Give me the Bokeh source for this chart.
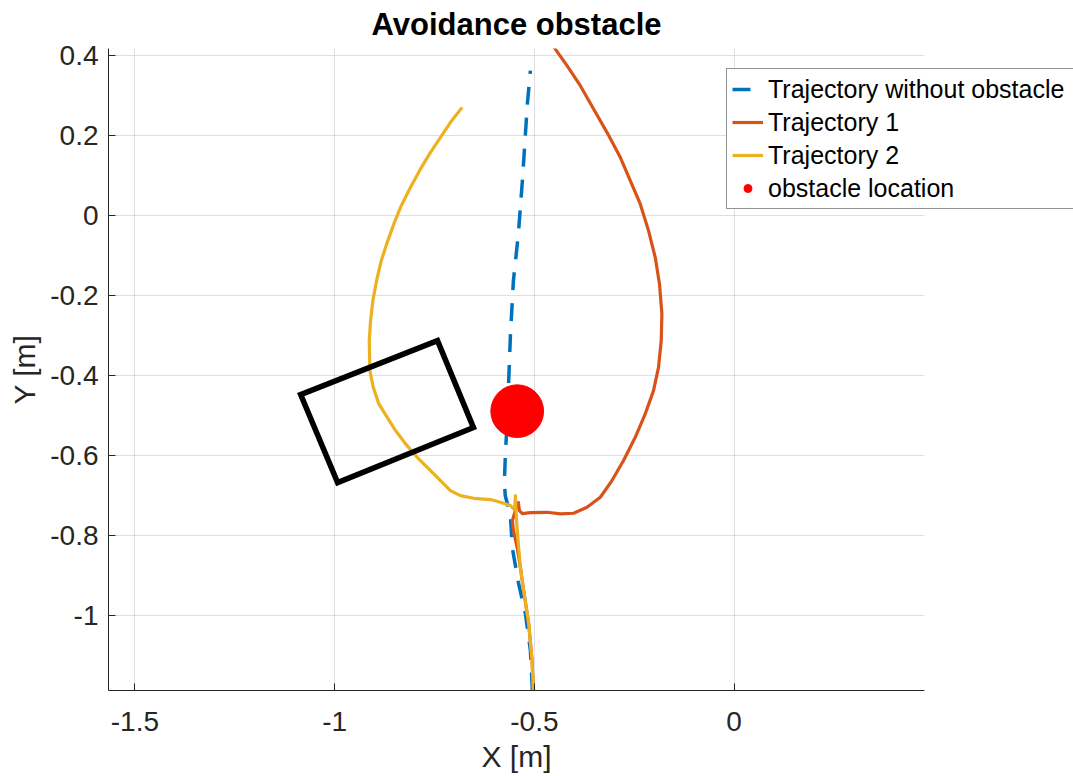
from bokeh.plotting import figure
from bokeh.models import (Range1d, FixedTicker, Legend, LegendItem, CustomJSTickFormatter,
                          Title, BoxAnnotation)
from bokeh.embed import file_html
from bokeh.resources import INLINE

FONT = "Liberation Sans"
TXT = "#262626"

# ---- data (metres) ----
x_ticks = [-1.5, -1.0, -0.5, 0.0]
x_tick_labels = ["-1.5", "-1", "-0.5", "0"]
y_ticks = [0.4, 0.2, 0.0, -0.2, -0.4, -0.6, -0.8, -1.0]
y_tick_labels = ["0.4", "0.2", "0", "-0.2", "-0.4", "-0.6", "-0.8", "-1"]

x_min, x_max = -1.566, 0.4765
y_min, y_max = -1.1875, 0.418

free_x = [-0.505, -0.510, -0.5225, -0.540, -0.555, -0.560, -0.573, -0.575, -0.5725,
          -0.568, -0.560, -0.5525, -0.540, -0.530, -0.5175, -0.510]
free_y = [-1.1875, -1.0875, -0.995, -0.9175, -0.8325, -0.750, -0.700, -0.6625, -0.595,
          -0.5125, -0.300, -0.1625, -0.045, 0.0875, 0.280, 0.3625]

traj1_x = [-0.5025, -0.5058, -0.5143, -0.5268, -0.535, -0.5425, -0.5525, -0.555, -0.5475,
           -0.540, -0.5375, -0.530, -0.510, -0.4683, -0.435, -0.4018, -0.3683, -0.335,
           -0.3058, -0.2768, -0.2475, -0.2225, -0.2018, -0.1893, -0.1825, -0.1808, -0.1868,
           -0.1975, -0.2143, -0.235, -0.260, -0.285, -0.3183, -0.3518, -0.385, -0.4183,
           -0.4518]
traj1_y = [-1.1875, -1.1125, -1.020, -0.9375, -0.880, -0.8325, -0.7875, -0.7625, -0.7375,
           -0.7175, -0.7375, -0.745, -0.7425, -0.7418, -0.7458, -0.7443, -0.7293, -0.7043,
           -0.6625, -0.6125, -0.5543, -0.4958, -0.4375, -0.3793, -0.3125, -0.2458, -0.1708,
           -0.1043, -0.0375, 0.0293, 0.0875, 0.1458, 0.2083, 0.2668, 0.325, 0.375,
           0.4225]

traj2_x = [-0.5025, -0.5058, -0.5143, -0.5268, -0.535, -0.5393, -0.5438, -0.5463, -0.5475,
           -0.5488, -0.5518, -0.560, -0.585, -0.610, -0.6518, -0.685, -0.710, -0.735,
           -0.7643, -0.7933, -0.8225, -0.8475, -0.8683, -0.8893, -0.9033, -0.9118, -0.9133,
           -0.910, -0.9043, -0.895, -0.8833, -0.8683, -0.8518, -0.835, -0.810, -0.785,
           -0.760, -0.735, -0.710, -0.6808]
traj2_y = [-1.1875, -1.1125, -1.020, -0.9375, -0.880, -0.830, -0.775, -0.7325, -0.700,
           -0.725, -0.7333, -0.725, -0.7168, -0.710, -0.7068, -0.700, -0.6875, -0.6625,
           -0.6333, -0.6043, -0.5708, -0.5375, -0.5043, -0.4708, -0.4293, -0.3875, -0.3125,
           -0.2625, -0.2125, -0.1625, -0.1125, -0.0668, -0.0208, 0.0208, 0.0708, 0.1168,
           0.1583, 0.1958, 0.2333, 0.2708]

obstacle_x = [-0.543]
obstacle_y = [-0.489]
obstacle_r = 0.066

box_x = [-1.085, -0.7425, -0.6525, -0.9925, -1.085]
box_y = [-0.4475, -0.3125, -0.530, -0.6675, -0.4475]

# ---- figure ----
FRAME_W_AXES = 816          # visible axes width in px
FRAME_W = 965               # frame reaches the window edge so the legend can overflow the axes
scale = FRAME_W_AXES / (x_max - x_min)
x_end = x_min + FRAME_W / scale

p = figure(frame_width=FRAME_W, frame_height=642,
           x_range=Range1d(x_min, x_end), y_range=Range1d(y_min, y_max),
           min_border_left=108, min_border_right=0, min_border_top=48, min_border_bottom=86,
           output_backend="svg", toolbar_location=None)
p.background_fill_color = "white"
p.border_fill_color = "white"
p.outline_line_color = None

title = Title(text="Avoidance obstacle", align="left", offset=263, vertical_align="top",
              standoff=10, text_font=FONT, text_font_size="31px", text_font_style="bold",
              text_color="black")
p.add_layout(title, "above")

fmt = CustomJSTickFormatter(code="return Number(tick.toFixed(2)).toString();")
p.xaxis.ticker = FixedTicker(ticks=x_ticks)
p.yaxis.ticker = FixedTicker(ticks=y_ticks)
p.xaxis.formatter = fmt
p.yaxis.formatter = fmt
p.xaxis.major_label_overrides = dict(zip(x_ticks, x_tick_labels))
p.yaxis.major_label_overrides = dict(zip(y_ticks, y_tick_labels))
p.xaxis.bounds = (x_min, x_max)
p.yaxis.axis_label = "Y [m]"
for ax in (p.xaxis, p.yaxis):
    ax.axis_line_color = TXT
    ax.axis_line_width = 1
    ax.major_tick_line_color = TXT
    ax.major_tick_in = 7
    ax.major_tick_out = 0
    ax.minor_tick_line_color = None
    ax.major_label_text_font = FONT
    ax.major_label_text_font_size = "28px"
    ax.major_label_text_color = TXT
    ax.axis_label_text_font = FONT
    ax.axis_label_text_font_size = "30px"
    ax.axis_label_text_font_style = "normal"
    ax.axis_label_text_color = TXT
p.xaxis.major_label_standoff = 21
p.yaxis.major_label_standoff = 10
p.yaxis.axis_label_standoff = 6

xlabel = Title(text="X [m]", align="left", offset=516 - 108 - 35, vertical_align="top",
               standoff=12, text_font=FONT, text_font_size="30px", text_font_style="normal",
               text_color=TXT)
p.add_layout(xlabel, "below")

for g in (p.xgrid, p.ygrid):
    g.grid_line_color = TXT
    g.grid_line_alpha = 0.15
    g.grid_line_width = 1

r0 = p.line(free_x, free_y, line_color="#0072BD", line_width=3.5, line_dash="18 13")
r1 = p.line(traj1_x, traj1_y, line_color="#D95319", line_width=3.2, line_join="round")
r2 = p.line(traj2_x, traj2_y, line_color="#EDB120", line_width=3.2, line_join="round")
r3 = p.circle(obstacle_x, obstacle_y, radius=obstacle_r, fill_color="#FF0000", line_color="#FF0000")
p.patch(box_x, box_y, fill_alpha=0, line_color="black", line_width=5.5, line_join="miter")

# blank out the part of the frame that lies right of the axes
p.add_layout(BoxAnnotation(left=x_max, fill_color="white", fill_alpha=1, line_color=None))

legend = Legend(items=[
    LegendItem(label="Trajectory without obstacle", renderers=[r0]),
    LegendItem(label="Trajectory 1", renderers=[r1]),
    LegendItem(label="Trajectory 2", renderers=[r2]),
    LegendItem(label="obstacle location", renderers=[r3]),
], location=(618, 481))
legend.label_text_font = FONT
legend.label_text_font_size = "25px"
legend.label_text_color = "black"
legend.glyph_width = 31
legend.glyph_height = 20
legend.label_height = 30
legend.label_width = 310
legend.label_standoff = 5
legend.spacing = 3
legend.padding = 5
legend.margin = 0
legend.border_line_color = TXT
legend.border_line_width = 1
legend.background_fill_color = "white"
legend.background_fill_alpha = 1
p.add_layout(legend, "center")

open("out.html", "w").write(file_html(p, INLINE))
